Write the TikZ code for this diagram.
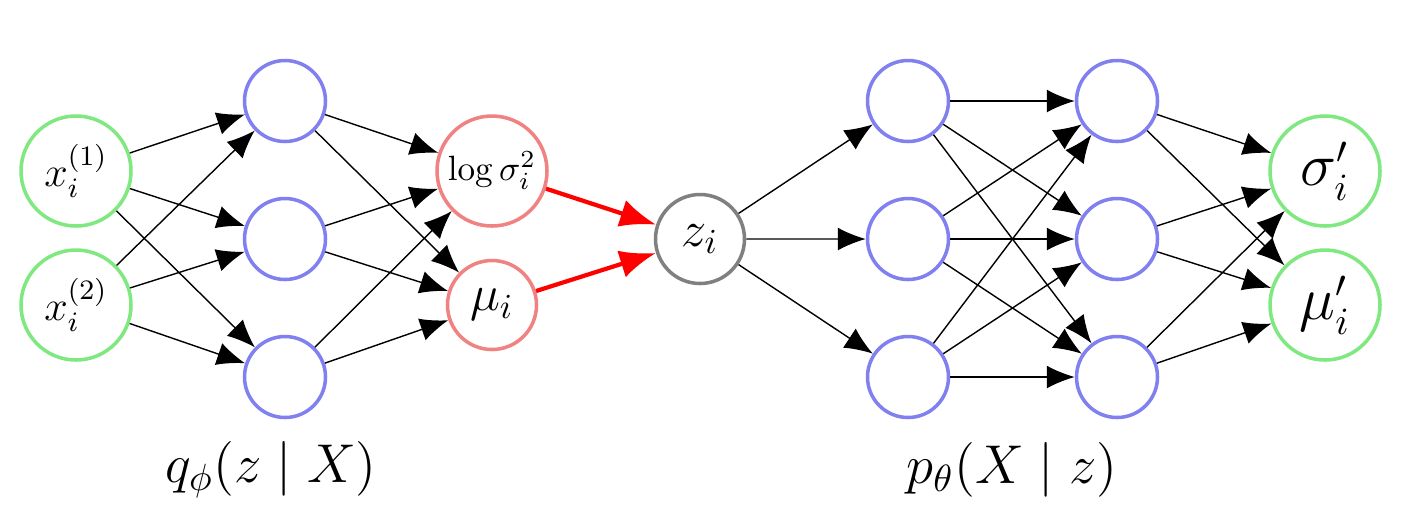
\documentclass[tikz,border=0pt]{standalone}
\usepackage{amsmath}
\usetikzlibrary{arrows.meta, positioning}
\definecolor{ingreen}{RGB}{128,232,128}
\definecolor{hidblue}{RGB}{128,128,240}
\definecolor{gausspink}{RGB}{240,130,130}
\definecolor{latgray}{RGB}{128,128,128}
\tikzset{
->, % makes the edges directed
>={Latex[length=2.8mm, width=2.3mm]}, % large filled arrow heads
line width=0.6pt,
node distance=1.38cm, % vertical gap between neurons of a hidden layer
neuron/.style={circle, draw, line width=1pt, inner sep=0pt, fill=white}, % every unit
inneuron/.style={neuron, draw=ingreen, minimum size=1.1cm, font=\large},
hidneuron/.style={neuron, draw=hidblue, minimum size=0.81cm},
gaussneuron/.style={neuron, draw=gausspink},
latneuron/.style={neuron, draw=latgray, minimum size=0.89cm, font=\Large},
outneuron/.style={neuron, draw=ingreen, minimum size=1.1cm, font=\fontsize{16}{19}\selectfont},
sample/.style={red, line width=1.2pt, -{Latex[length=3.6mm, width=2.8mm]}}, % reparametrisation arrows
distlabel/.style={font=\Large, scale=1.08, transform shape}, % caption under each network
}

\begin{document}
\begin{tikzpicture}
        \useasboundingbox (0,0) rectangle (14.03,-5.24);

        % Encoder
        \node[inneuron] (x1) at (0.76,-1.71) {$x_i^{(1)}$};
        \node[inneuron, below of=x1, node distance=1.34cm] (x2) {$x_i^{(2)}$};

        \node[hidneuron] (h1) at (2.85,-1.01) {};
        \node[hidneuron, below of=h1] (h2) {};
        \node[hidneuron, below of=h2] (h3) {};

        \node[gaussneuron, minimum size=1.1cm] (lv) at (4.92,-1.71) {$\log\sigma_i^2$};
        \node[gaussneuron, minimum size=0.89cm, font=\Large, below of=lv, node distance=1.34cm] (mu) {$\mu_i$};

        \draw (x1) edge (h1) edge (h2) edge (h3);
        \draw (x2) edge (h1) edge (h2) edge (h3);
        \draw (h1) edge (lv) edge (mu);
        \draw (h2) edge (lv) edge (mu);
        \draw (h3) edge (lv) edge (mu);

        % Latent code
        \node[latneuron] (z) at (7.00,-2.39) {$z_i$};

        \draw (lv) edge[sample] (z);
        \draw (mu) edge[sample] (z);

        % Decoder
        \node[hidneuron] (d1) at (9.08,-1.01) {};
        \node[hidneuron, below of=d1] (d2) {};
        \node[hidneuron, below of=d2] (d3) {};

        \node[hidneuron] (e1) at (11.17,-1.01) {};
        \node[hidneuron, below of=e1] (e2) {};
        \node[hidneuron, below of=e2] (e3) {};

        \node[outneuron] (sg) at (13.25,-1.71) {$\sigma'_i$};
        \node[outneuron, below of=sg, node distance=1.34cm] (mo) {$\mu'_i$};

        \draw (z) edge (d1) edge (d2) edge (d3);
        \draw (d1) edge (e1) edge (e2) edge (e3);
        \draw (d2) edge (e1) edge (e2) edge (e3);
        \draw (d3) edge (e1) edge (e2) edge (e3);
        \draw (e1) edge (sg) edge (mo);
        \draw (e2) edge (sg) edge (mo);
        \draw (e3) edge (sg) edge (mo);

        % Distributions
        \node[distlabel] (qlabel) at (2.71,-4.70) {$q_\phi(z \mid X)$};
        \node[distlabel] (plabel) at (10.12,-4.70) {$p_\theta(X \mid z)$};
\end{tikzpicture}
\end{document}
